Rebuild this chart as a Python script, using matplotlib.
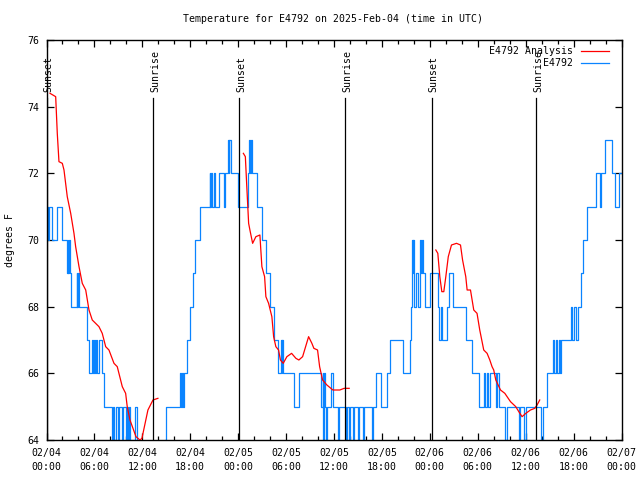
import matplotlib
matplotlib.use('Agg')
import numpy as np
import matplotlib.pyplot as plt
from matplotlib.ticker import MultipleLocator

plt.rcParams['font.family'] = ['DejaVu Sans Mono']
plt.rcParams['font.size'] = 7.1

# observed temperature (hours since 02/04 00:00 UTC, degrees F), step changes
obs_hours = [0.03, 0.12, 0.19, 0.31, 0.73, 1.35, 1.98, 2.53, 2.63, 2.75, 2.84, 2.94, 3.03, 3.78, 3.88,
             3.94, 4.03, 5.11, 5.32, 5.73, 5.82, 6.0, 6.11, 6.26, 6.36, 6.57, 6.98, 7.2, 8.24, 8.36,
             8.51, 8.64, 9.01, 9.14, 9.45, 9.57, 9.95, 10.07, 10.26, 10.39, 10.51, 11.08, 11.39, 11.76,
             14.87, 15.02, 16.71, 16.83, 16.96, 17.08, 17.21, 17.62, 17.96, 18.34, 18.65, 19.27,
             20.43, 20.53, 20.65, 20.78, 20.96, 21.09, 21.55, 22.22, 22.38, 22.72, 22.84, 22.9, 23.09,
             24.0, 25.26, 25.41, 25.51, 25.57, 25.68, 26.31, 26.97, 27.53, 28.04, 28.44, 28.97, 29.35,
             29.44, 29.54, 29.66, 30.94, 31.56, 34.36, 34.57, 34.67, 34.79, 34.92, 35.04, 35.13, 35.6,
             35.82, 36.45, 36.67, 37.49, 37.68, 37.92, 38.05, 38.36, 38.49, 38.99, 39.11, 39.61, 39.74,
             40.74, 40.93, 41.24, 41.87, 42.58, 42.99, 44.66, 45.49, 45.62, 45.74, 45.87, 45.93, 46.06,
             46.31, 46.5, 46.75, 46.93, 47.06, 47.16, 47.43, 48.0, 49.04, 49.19, 49.38, 49.5, 50.09,
             50.38, 50.92, 52.51, 53.32, 54.13, 54.84, 54.94, 55.13, 55.26, 55.57, 56.26, 56.38, 56.63,
             57.35, 57.6, 59.14, 59.35, 59.77, 59.98, 61.93, 62.18, 62.68, 63.39, 63.52, 63.77, 63.89,
             64.14, 64.26, 64.39, 65.68, 65.83, 66.02, 66.27, 66.52, 66.93, 67.15, 67.68, 68.81, 69.33,
             69.46, 69.94, 70.78, 71.2, 71.7, 72.0]
obs_temp = [70, 71, 70, 71, 70, 71, 70, 69, 70, 69, 70, 69, 68, 69, 68,
            69, 68, 67, 66, 67, 66, 67, 66, 67, 66, 67, 66, 65, 64, 65,
            64, 65, 64, 65, 64, 65, 64, 65, 64, 65, 64, 65, 64, 63,
            64, 65, 66, 65, 66, 65, 66, 67, 68, 69, 70, 71,
            72, 71, 72, 71, 72, 71, 72, 71, 72, 73, 72, 73, 72,
            71, 72, 73, 72, 73, 72, 71, 70, 69, 68, 67, 66, 67,
            66, 67, 66, 65, 66, 65, 66, 64, 66, 65, 64, 65, 66,
            65, 64, 65, 64, 65, 64, 65, 64, 65, 64, 65, 64, 65,
            64, 65, 66, 65, 66, 67, 66, 67, 68, 70, 69, 70, 68,
            69, 68, 70, 69, 70, 69, 68, 69, 68, 67, 68, 67, 68,
            69, 68, 67, 66, 65, 66, 65, 66, 65, 66, 65, 66, 65,
            64, 65, 64, 65, 64, 65, 64, 65, 66, 67, 66, 67, 66,
            67, 66, 67, 68, 67, 68, 67, 68, 69, 70, 71, 72, 71,
            72, 73, 72, 71, 72, 72]

# analysis curve, three separate pieces
ana1_hours = [0.44, 1.15, 1.35, 1.56, 1.98, 2.19, 2.6, 3.03, 3.44, 3.65, 4.07, 4.48, 4.91, 5.32, 5.73,
              6.57, 6.98, 7.41, 7.82, 8.45, 8.86, 9.49, 9.91, 10.11, 10.45, 10.83, 11.2, 11.7, 11.95,
              12.7, 13.33, 13.95]
ana1_temp = [74.4, 74.3, 73.2, 72.35, 72.3, 72.1, 71.3, 70.8, 70.2, 69.8, 69.2, 68.7, 68.5, 67.9, 67.6,
             67.4, 67.2, 66.8, 66.7, 66.3, 66.2, 65.6, 65.4, 65.0, 64.6, 64.35, 64.1, 64.0, 64.05,
             64.9, 65.2, 65.25]
ana2_hours = [24.65, 24.9, 25.06, 25.31, 25.47, 25.81, 26.22, 26.72, 26.97, 27.31, 27.47, 27.81, 28.22,
              28.44, 28.72, 29.06, 29.29, 29.64, 30.1, 30.69, 31.23, 31.6, 32.07, 32.82, 33.23, 33.48,
              33.94, 34.2, 34.57, 35.11, 35.86, 36.73, 37.27, 37.9]
ana2_temp = [72.6, 72.5, 71.7, 70.5, 70.3, 69.9, 70.1, 70.15, 69.2, 68.9, 68.3, 68.1, 67.7,
             67.1, 66.8, 66.7, 66.4, 66.3, 66.5, 66.6, 66.45, 66.4, 66.5, 67.1, 66.9, 66.75,
             66.7, 66.2, 65.8, 65.65, 65.5, 65.5, 65.55, 65.55]
ana3_hours = [48.75, 49.0, 49.25, 49.5, 49.75, 50.0, 50.31, 50.71, 51.34, 51.84, 52.1, 52.5, 52.67,
              53.09, 53.5, 53.91, 54.25, 54.75, 55.17, 55.51, 55.79, 56.0, 56.26, 56.85, 57.39, 58.1,
              58.76, 59.14, 59.55, 60.02, 60.6, 61.14, 61.43, 61.76]
ana3_temp = [69.7, 69.6, 68.9, 68.45, 68.45, 68.9, 69.5, 69.85, 69.9, 69.85, 69.4, 68.9, 68.5,
             68.5, 67.9, 67.8, 67.3, 66.7, 66.6, 66.4, 66.2, 66.1, 65.8, 65.5, 65.4, 65.15,
             65.0, 64.85, 64.7, 64.8, 64.9, 64.95, 65.05, 65.2]

sun_hours = [0.03, 13.37, 24.13, 37.4, 48.21, 61.3]
sun_labels = ['Sunset', 'Sunrise', 'Sunset', 'Sunrise', 'Sunset', 'Sunrise']

tick_hours = list(range(0, 73, 6))
tick_labels = ['02/04\n00:00', '02/04\n06:00', '02/04\n12:00', '02/04\n18:00',
               '02/05\n00:00', '02/05\n06:00', '02/05\n12:00', '02/05\n18:00',
               '02/06\n00:00', '02/06\n06:00', '02/06\n12:00', '02/06\n18:00', '02/07\n00:00']

fig = plt.figure(figsize=(6.4, 4.8), dpi=100)
ax = fig.add_axes([46.5/640, 40/480, 575/640, 400/480])

ana_h = ana1_hours + [np.nan] + ana2_hours + [np.nan] + ana3_hours
ana_t = ana1_temp + [np.nan] + ana2_temp + [np.nan] + ana3_temp
ax.plot(ana_h, ana_t, color='#ff0000', lw=0.9, label='E4792 Analysis', zorder=3)
ax.plot(obs_hours, obs_temp, color='#0a84ff', lw=0.9, drawstyle='steps-post', label='E4792', zorder=2)

for h, lab in zip(sun_hours, sun_labels):
    ax.plot([h, h], [64, 74.25], color='black', lw=0.9, zorder=4)
    # label sits a hair right of its line, like the original
    ax.annotate(lab, (h, 74.45), xytext=(1.5, 0), textcoords='offset points',
                rotation=90, ha='center', va='bottom')

ax.set_xlim(0, 72)
ax.set_ylim(64, 76)
ax.set_xticks(tick_hours)
ax.set_xticklabels(tick_labels, linespacing=1.5)
ax.xaxis.set_minor_locator(MultipleLocator(2))
ax.set_yticks(range(64, 77, 2))
ax.tick_params(which='both', direction='in', top=True, right=True, width=0.9)
ax.tick_params(which='major', length=5)
ax.tick_params(which='minor', length=3)
ax.tick_params(axis='x', pad=6)
ax.tick_params(axis='y', pad=5)
for s in ax.spines.values():
    s.set_linewidth(1.0)

ax.legend(loc='upper right', bbox_to_anchor=(0.982, 0.99), frameon=False, markerfirst=False,
          handlelength=2.85, labelspacing=0.25, borderpad=0.2, handletextpad=0.8, borderaxespad=0)

fig.text(0.52, 1 - 19/480, 'Temperature for E4792 on 2025-Feb-04 (time in UTC)', ha='center', va='center')
fig.text(10/640, 0.5, 'degrees F', rotation=90, ha='center', va='center')

fig.savefig('out.png', dpi=100)
